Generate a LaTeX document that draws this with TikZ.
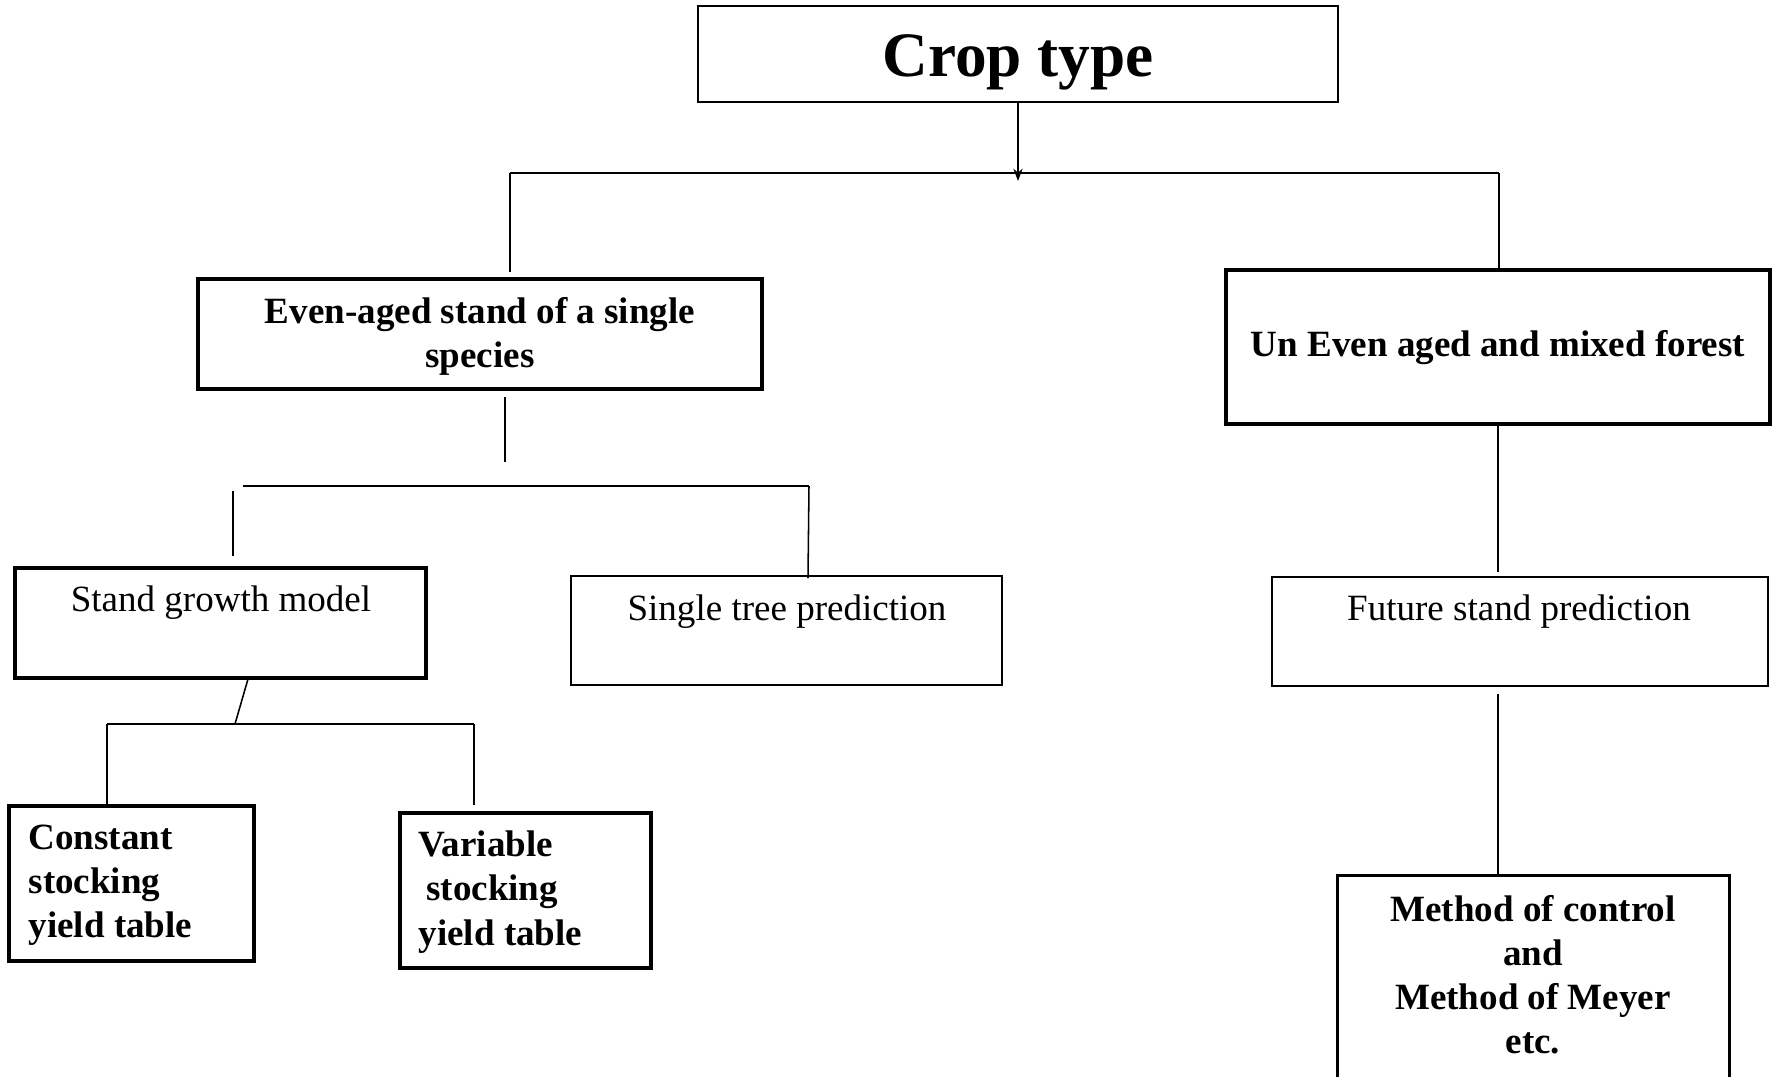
\documentclass[tikz,border=0pt]{standalone}
\usepackage{fontspec}
\setmainfont{Liberation Serif}
\usetikzlibrary{arrows.meta,calc}
\begin{document}
\begin{tikzpicture}[x=0.324pt,y=-0.324pt,
  sz/.style 2 args={minimum width=#1*0.324pt,minimum height=#2*0.324pt},
  thickbox/.style={draw,line width=1.1pt,inner sep=0pt},
  midbox/.style={draw,line width=0.7pt,inner sep=0pt},
  txt/.style={inner sep=0pt,font=\fontsize{12}{14.3}\selectfont},
  btxt/.style={inner sep=0pt,font=\fontsize{12}{14.3}\selectfont\bfseries},
  conn/.style={line width=0.5pt}]
\useasboundingbox (0,0) rectangle (1777,1076);
% boxes
\node[draw,line width=0.85pt,inner sep=0pt,sz={640}{96}] (crop) at (1018,54) {};
\node[inner sep=0pt,font=\fontsize{20.5}{24}\selectfont\bfseries] (cropt) at (1018,62) {Crop type};
\node[thickbox,sz={564}{110}] (even) at (480,334) {};
\node[btxt,align=center] (event) at (480,336) {Even-aged stand of a single\\species};
\node[thickbox,sz={544}{154}] (uneven) at (1498,347) {};
\node[btxt] (unevent) at (1498,348) {Un Even aged and mixed forest};
\node[thickbox,sz={411}{110}] (sgm) at (220.5,623) {};
\node[txt] (sgmt) at (221,603) {Stand growth model};
\node[midbox,sz={431}{109}] (stp) at (786.5,630.5) {};
\node[txt] (stpt) at (787,612) {Single tree prediction};
\node[midbox,sz={496}{109}] (fsp) at (1520,631.5) {};
\node[txt] (fspt) at (1519,612) {Future stand prediction};
\node[thickbox,sz={245}{155}] (cst) at (131.5,883.5) {};
\node[btxt,align=left,anchor=west] (cstt) at (28,885) {Constant\\stocking\\yield table};
\node[thickbox,sz={251}{155}] (vst) at (525.5,890.5) {};
\node[btxt,align=left,anchor=west] (vstt) at (418,892) {Variable\\\hspace{2.5pt}stocking\\yield table};
\node[inner sep=0pt,sz={391}{200}] (meth) at (1533.5,976) {};
\draw[line width=0.8pt] (meth.south west) |- (meth.north east) -- (meth.south east);
\node[btxt,align=center] (metht) at (1533,975) {Method of control\\and\\Method of Meyer\\etc.};
% junction coordinates
\coordinate (j1) at (1018,173);
\coordinate (j1l) at (510,173);
\coordinate (j1r) at (1499,173);
\coordinate (e1) at (505,397);
\coordinate (e2) at (505,462);
\coordinate (h2l) at (243,486);
\coordinate (h2r) at (809,486);
\coordinate (v2a) at (233,491);
\coordinate (v2b) at (233,556);
\coordinate (s1) at (248,679);
\coordinate (h3l) at (107,724);
\coordinate (h3m) at (235,724);
\coordinate (h3r) at (474,724);
\coordinate (m1) at (1498,694);
% connectors
\draw[conn,-{Stealth[length=4pt,width=3pt]}] (crop.south) -- (1018,181);
\draw[conn] (j1l) -- (j1r);
\draw[conn] (j1l) -- (510,272);
\draw[conn] (j1r) -- (1499,272);
\draw[conn] (e1) -- (e2);
\draw[conn] (h2l) -- (h2r);
\draw[conn] (v2a) -- (v2b);
\draw[conn] (h2r) -- (808,578);
\draw[conn] (uneven.south) -- (1498,572);
\draw[conn] (m1) -- (m1 |- meth.north);
\draw[conn] (s1) -- (h3m);
\draw[conn] (h3l) -- (h3r);
\draw[conn] (h3l) -- (107,805);
\draw[conn] (h3r) -- (474,805);
\end{tikzpicture}
\end{document}
